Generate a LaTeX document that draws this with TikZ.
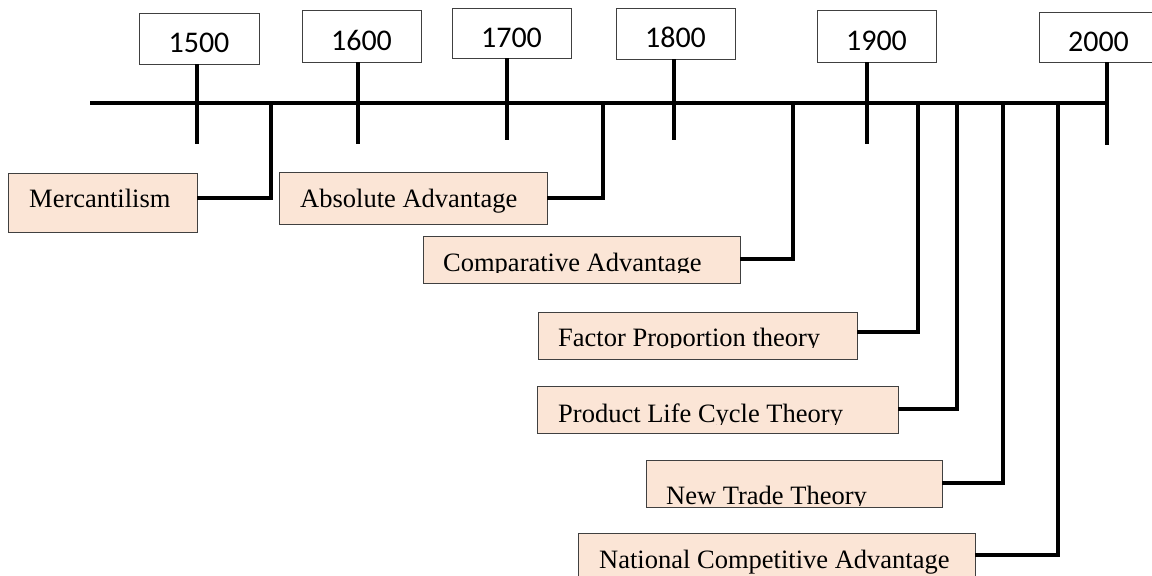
\documentclass[tikz,border=0pt]{standalone}
\usepackage{fontspec}
\setmainfont{Liberation Serif}
\newfontfamily\yearfont{Carlito}
\definecolor{peach}{HTML}{FBE5D6}
\definecolor{edge}{HTML}{404040}
\begin{document}
\begin{tikzpicture}[x=1pt,y=-1pt,
  yearbox/.style={draw=edge, line width=0.8pt, fill=white, minimum width=119pt,
    minimum height=51pt, inner sep=0pt, text height=28pt, text depth=0pt,
    font=\yearfont\fontsize{30}{35}\selectfont},
  theorybox/.style={draw=edge, line width=0.8pt, fill=peach, inner sep=0pt},
  theorytext/.style={anchor=base west, inner sep=0pt,
    font=\fontsize{26.5}{30}\selectfont},
  axis/.style={line width=4pt},
  link/.style={line width=3.5pt, line join=miter}]

\useasboundingbox (0,0) rectangle (1152,576);
\fill[white] (0,0) rectangle (1152,576);

% time axis
\coordinate (axL) at (90,103);
\coordinate (axR) at (1109,103);
\draw[axis] (axL) -- (axR);

% century markers
\node[yearbox, minimum width=120pt] (y1500) at (199,38.5)  {1500};
\node[yearbox, minimum height=52pt] (y1600) at (361.5,36)  {1600};
\node[yearbox, minimum height=50pt] (y1700) at (511.5,33)  {1700};
\node[yearbox]                      (y1800) at (675.5,33.5){1800};
\node[yearbox, minimum height=52pt] (y1900) at (876.5,36)  {1900};
\node[yearbox, minimum height=50pt] (y2000) at (1098.5,37) {2000};

\coordinate (t1500) at (197,144);
\coordinate (t1600) at (358,144);
\coordinate (t1700) at (507,140);
\coordinate (t1800) at (674,140);
\coordinate (t1900) at (867,144);
\coordinate (t2000) at (1107,145);
\foreach \yr in {1500,1600,1700,1800,1900,2000}
  \draw[axis] (t\yr |- y\yr.south) -- (t\yr);

% theory boxes
\node[theorybox, minimum width=189pt, minimum height=59pt] (merc) at (102.5,202.5) {};
\node[theorybox, minimum width=268pt, minimum height=52pt] (abs)  at (413,198)    {};
\node[theorybox, minimum width=317pt, minimum height=47pt] (comp) at (581.5,259.5) {};
\node[theorybox, minimum width=319pt, minimum height=47pt] (fact) at (697.5,335.5) {};
\node[theorybox, minimum width=361pt, minimum height=47pt] (plc)  at (717.5,409.5) {};
\node[theorybox, minimum width=296pt, minimum height=47pt] (ntt)  at (794,483.5)   {};
\node[theorybox, minimum width=397pt, minimum height=67pt] (nca)  at (776.5,566.5) {};

% labels, cut off at the lower text edge of their frames
\node[theorytext] (lmerc) at (29,207) {Mercantilism};
\node[theorytext] (labs)  at (300,207) {Absolute Advantage};
\begin{scope}
  \clip (423,236) rectangle (740,272.5);
  \node[theorytext] (lcomp) at (443,271) {Comparative Advantage};
\end{scope}
\begin{scope}
  \clip (538,312) rectangle (857,347.5);
  \node[theorytext] (lfact) at (558,346) {Factor Proportion theory};
\end{scope}
\begin{scope}
  \clip (537,386) rectangle (898,424);
  \node[theorytext] (lplc) at (558,422.5) {Product Life Cycle Theory};
\end{scope}
\begin{scope}
  \clip (646,460) rectangle (942,505.5);
  \node[theorytext] (lntt) at (666,504) {New Trade Theory};
\end{scope}
\node[theorytext] (lnca) at (599,568) {National Competitive Advantage};

% connectors from the axis to each theory
\coordinate (jmerc) at (271,103);  \coordinate (kmerc) at (271,198);
\coordinate (jabs)  at (603,103);  \coordinate (kabs)  at (603,198);
\coordinate (jcomp) at (793,103);  \coordinate (kcomp) at (793,259);
\coordinate (jfact) at (918,103);  \coordinate (kfact) at (918,332);
\coordinate (jplc)  at (957,103);  \coordinate (kplc)  at (957,409);
\coordinate (jntt)  at (1003,103); \coordinate (kntt)  at (1003,483);
\coordinate (jnca)  at (1058,103); \coordinate (knca)  at (1058,555);
\foreach \th in {merc,abs,comp,fact,plc,ntt,nca}
  \draw[link] (j\th) -- (k\th) -- (k\th -| \th.east);

\end{tikzpicture}
\end{document}
